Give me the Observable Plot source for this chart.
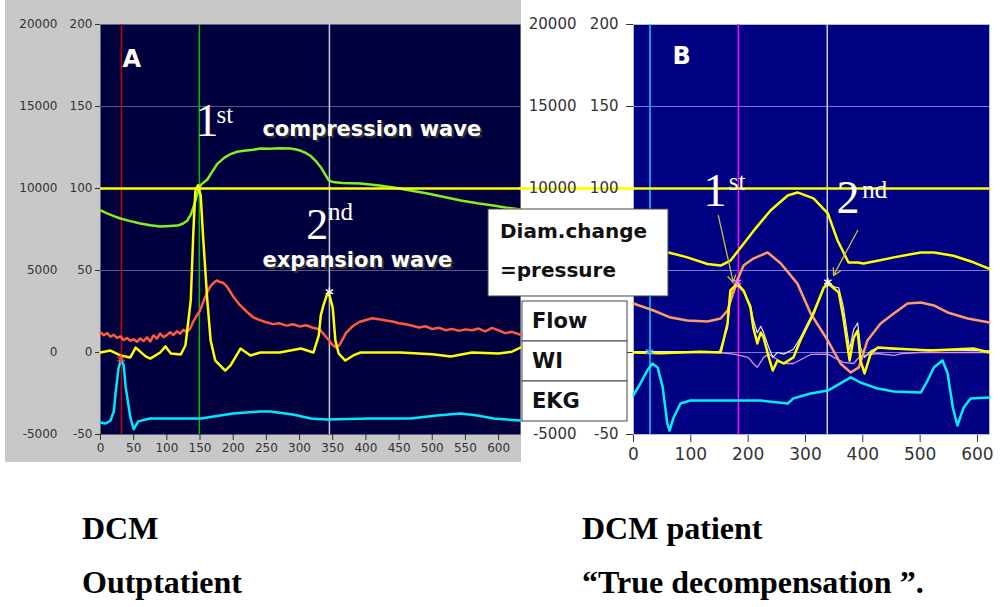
<!DOCTYPE html>
<html><head><meta charset="utf-8">
<script src="https://cdn.jsdelivr.net/npm/d3@7"></script>
<script src="https://cdn.jsdelivr.net/npm/@observablehq/plot@0.6"></script>
<style>
body{margin:0;background:#fff;}
#wrap{position:relative;width:1000px;height:607px;overflow:hidden;background:#fff;}
#a{position:absolute;left:5px;top:0;}
#b{position:absolute;left:521px;top:0;}
#ov{position:absolute;left:0;top:0;pointer-events:none;}
</style></head><body>
<div id="wrap"><div id="a"></div><div id="b"></div><svg id="ov" width="1000" height="607"></svg></div>
<script>
// ---------- shared ticks ----------
const yTicks = [-50, 0, 50, 100, 150, 200];
const yTicksLeft = [-5000, 0, 5000, 10000, 15000, 20000];
// panel B: labels at 0 and 50 are hidden behind the legend boxes in the reference
const bLabelTicks = [-50, 100, 150, 200];
const bLabelTicksLeft = [-5000, 10000, 15000, 20000];
const xTicksA = [0,50,100,150,200,250,300,350,400,450,500,550,600];
const xTicksB = [0,100,200,300,400,500,600];
const gridLevels = [150, 50];
const refLevel = [100];

// ---------- Panel A (outpatient) ----------
const aPressX = [0,10,20,30,45,60,75,90,105,116,124,131,136,140,144,148,152,161,168,176,186,196,206,216,230,241,255,270,286,295,302,310,317,325,332,338,344,350,357,365,392,420,442,467,493,518,543,568,592,612,633];
const aPressV = [86.6,84.8,83.2,81.7,80.1,78.7,77.6,76.8,77.2,77.4,78.5,80.5,84,88.4,94,100,102.5,105.5,110,115,118.5,121,122.4,123,123.6,124.4,124.2,124.5,124.4,123.8,123,121.5,119.8,116.5,113,109,105,104,103.7,103.3,103,101.8,100.6,98.8,97,94.8,92.7,91,89.6,88.3,87.2];

const aFlowX = [0,5,10,15,20,25,30,35,40,45,50,55,60,65,70,75,80,85,90,95,100,105,110,115,120,125,130,135,140,145,150,155,160,165,170,175,180,185,190,195,200,210,220,230,240,250,260,270,280,290,300,310,320,330,340,345,350,355,360,365,370,380,390,400,410,420,430,440,450,460,470,480,490,500,510,520,530,540,550,560,570,580,590,600,610,620,633];
const aFlowV = [12.2,10.5,11.8,9.6,10.8,8.9,9.8,7.6,8.8,7.2,8.1,6.5,8.6,7.0,9.2,6.8,10.4,8.5,11.6,9.4,10.6,12.3,10.7,12.9,11.5,13.8,12.6,14.5,19,22.5,25.6,31,36,40,42.3,43.9,43,42.5,40.5,37.5,34,29,25,21.5,19.8,18.4,17.3,17.8,16.4,17.2,15.9,16.6,15.1,14.2,9.5,7,4.5,3,4.5,8,12,16,18.6,19.8,20.9,20.3,19.5,18.9,17.8,17.2,16.3,15.2,16,14.3,15.1,13.6,14.4,13.2,14.1,13.6,14.6,12.9,15,13.5,11.8,12.6,10.8];

const aWiX = [0,15,30,45,53,68,75,90,98,106,121,128,136,140,143,147,151,155,161,166,173,188,196,211,226,241,270,302,321,329,332,336,341,344,350,354,359,369,381,392,452,500,528,560,600,620,633];
const aWiV = [0,1.2,-1.8,-3,3,-2.4,-3.7,0,3.7,-0.6,-1.2,4.3,31.7,74,98.8,102,95.7,68.3,31.7,7.3,-4.9,-11,-7.9,2.4,-1.8,0,0,2.4,0,10.4,22.6,28.7,34.8,36.6,27.4,7.3,-0.6,-4.9,-1.8,0,0,-1,-2.4,0,-0.6,0.5,3];

const aEkgX = [0,8,15,20,23,27,31,35,38,45,50,57,68,75,151,200,241,256,290,317,341,407,467,507,543,568,593,633];
const aEkgV = [-42.7,-43.3,-41.5,-36,-23.8,-10,-3.7,-8,-21.3,-39.6,-46.8,-42,-40.9,-40.3,-40.3,-37.2,-36,-36,-37.8,-40.3,-40.9,-40.3,-40.3,-38.4,-37.2,-38.4,-40.3,-41.5];

const aCursorX = [31.6, 149, 345];
const aCursorColor = ["#c80000", "#00c000", "#c8c8dc"];

// ---------- Panel B (true decompensation) ----------
const bPressX = [0,30,61,94,129,152,169,187,209,239,269,286,314,339,356,375,391,401,426,454,501,524,558,593,621];
const bPressV = [63,62,61,58,54,53,56,64,74,86.6,95.7,97.6,94,84.8,68.3,54.9,54.9,54.3,56,58,61,61,59,55,51];

const bFlowX = [0,35,65,94,129,152,164,181,192,209,234,257,286,309,339,361,379,393,408,431,454,478,501,524,548,583,621];
const bFlowV = [29.9,25.6,21.3,19.5,18.9,20.7,25.6,43.9,53,57.3,61,54.3,42,23.8,7.3,-6.7,-12.2,-9.1,7.3,17.7,23.8,29.9,30.5,28.7,24.4,20.7,18.3];

const bWiX = [0,47,117,152,164,169,181,192,204,209,216,222,227,236,243,251,262,279,291,314,332,340,358,366,377,384,391,396,403,414,426,454,518,593,621];
const bWiV = [0,-0.5,0.5,0,17.7,37.8,42,37.8,27.4,15.2,5.5,12.2,9.1,-3,-11,-4.9,-6.7,-3,7.3,23.8,39.6,42,36.6,21.3,-4.9,9,13.4,-4.9,-12.8,-0.6,3,2.4,1.2,2.4,0];

const bWhiteX = [0,150,164,169,181,192,204,209,216,222,227,236,243,251,262,279,291,314,332,340,350,358,366,377,384,391,396,403,414,426,454,621];
const bWhiteV = [0.5,0.5,15,35,41,37,29,20,12,16,12,3,-3,0,-1,2,9,25,40,43,40,39.5,28,2,14,18,3,-3,1,3,2,1];

const bVioletX = [0,150,175,200,209,216,227,236,262,279,309,339,366,384,396,426,454,470,500,621];
const bVioletV = [0,0,-1,-3,-6.7,-9,-3,-1,-6.7,-6.7,-1.2,-1,-6,-6.7,-2,-0.6,-1.8,-0.6,0,0];

const bEkgX = [0,12,24,33,42,51,59,63,70,82,99,222,269,279,309,339,379,396,426,454,501,513,524,539,548,557,565,576,588,621];
const bEkgV = [-26,-18.9,-11,-6.7,-9.1,-21.3,-43.3,-47.6,-39.6,-31.1,-29.3,-29.3,-31.1,-28,-25,-23.2,-15.2,-18.3,-22,-23.8,-24.4,-17.1,-9.1,-4.9,-12.8,-33.5,-44.5,-33.5,-28,-27.4];

const bCursorX = [28.8, 183, 338];
const bCursorColor = ["#10c8ff", "#ff10ff", "#d0d0ec"];

// annotation anchors (data units)
const aNotes = [
  {x: 33, y: 173.8, text: "A", font: "DejaVu Sans", size: 24, weight: "bold"},
  {x: 143, y: 132.3, text: "1", font: "Liberation Serif", size: 46, weight: "normal"},
  {x: 175, y: 140.2, text: "st", font: "Liberation Serif", size: 25, weight: "normal"},
  {x: 310, y: 69, text: "2", font: "Liberation Serif", size: 44, weight: "normal"},
  {x: 343, y: 80.5, text: "nd", font: "Liberation Serif", size: 25, weight: "normal"}
];
const aWaveNotes = [
  {x: 244, y: 132.3, text: "compression wave"},
  {x: 244, y: 52, text: "expansion wave"}
];
const bNotes = [
  {x: 68, y: 176, text: "B", font: "DejaVu Sans", size: 24, weight: "bold"},
  {x: 122, y: 89.6, text: "1", font: "Liberation Serif", size: 46, weight: "normal"},
  {x: 166, y: 98.8, text: "st", font: "Liberation Serif", size: 25, weight: "normal"},
  {x: 354, y: 84.8, text: "2", font: "Liberation Serif", size: 46, weight: "normal"},
  {x: 399, y: 94.5, text: "nd", font: "Liberation Serif", size: 25, weight: "normal"}
];
const bArrows = [
  {x1: 148, y1: 83.5, x2: 174, y2: 42.7},
  {x1: 391, y1: 74.4, x2: 349, y2: 47}
];
const aStars = [{x: 345, y: 37, c: "#ffffff"}, {x: 31, y: -4, c: "#ff3030"}];
const bStars = [{x: 181, y: 43, c: "#ff70ff"}, {x: 339, y: 43, c: "#ffffff"}, {x: 28, y: 0.5, c: "#40a0ff"}];

const legendTop = ["Diam.change", "=pressure"];
const legendRows = ["Flow", "WI", "EKG"];
const captionsA = ["DCM", "Outptatient"];
const captionsB = ["DCM patient", "\u201CTrue decompensation \u201D."];

const zip = (xs, ys) => xs.map((x, i) => ({x, y: ys[i]}));
const fmt = d => String(d);

function noteMarks(notes) {
  return notes.map(n => Plot.text([n], {x: "x", y: "y", text: "text", fill: "white", fontFamily: n.font, fontSize: n.size, fontWeight: n.weight, textAnchor: "start", lineAnchor: "bottom"}));
}

// ---------- Plot A ----------
const chartA = Plot.plot({
  width: 516, height: 462,
  marginLeft: 95, marginRight: 1, marginTop: 24, marginBottom: 28,
  style: {background: "#c8c8c8", overflow: "visible", fontFamily: "DejaVu Sans, sans-serif", fontSize: "12px", color: "#333"},
  x: {domain: [0, 633], ticks: xTicksA, tickSize: 6, tickPadding: 3, tickFormat: fmt, label: null},
  y: {domain: [-50, 200], ticks: yTicks, tickSize: 5, tickPadding: 3, tickFormat: fmt, label: null},
  marks: [
    Plot.frame({fill: "#00003e"}),
    Plot.ruleY(gridLevels, {stroke: "#5a5a86", strokeWidth: 1}),
    ...aCursorX.map((x, i) => Plot.ruleX([x], {stroke: aCursorColor[i], strokeWidth: 1.5})),
    Plot.line(zip(aEkgX, aEkgV), {x: "x", y: "y", stroke: "#00e8ff", strokeWidth: 2.5}),
    Plot.line(zip(aFlowX, aFlowV), {x: "x", y: "y", stroke: "#ff5a3c", strokeWidth: 2.5}),
    Plot.line(zip(aPressX, aPressV), {x: "x", y: "y", stroke: "#80f020", strokeWidth: 2.5}),
    Plot.line(zip(aWiX, aWiV), {x: "x", y: "y", stroke: "#ffff00", strokeWidth: 2.5}),
    Plot.dot(aStars, {x: "x", y: "y", stroke: "c", symbol: "asterisk", r: 4}),
    Plot.ruleY(refLevel, {x1: 0, x2: 800, stroke: "#ffff00", strokeWidth: 2.5}),
    Plot.text(yTicks, {y: d => d, text: (d, i) => String(yTicksLeft[i]), frameAnchor: "left", textAnchor: "end", dx: -43, fill: "#333", fontSize: 12}),
    ...noteMarks(aNotes),
    Plot.text(aWaveNotes, {x: "x", y: "y", text: "text", dx: 2, dy: 2, fill: "#303030", fontFamily: "DejaVu Sans", fontWeight: "bold", fontSize: 21, textAnchor: "start", lineAnchor: "bottom"}),
    Plot.text(aWaveNotes, {x: "x", y: "y", text: "text", fill: "white", fontFamily: "DejaVu Sans", fontWeight: "bold", fontSize: 21, textAnchor: "start", lineAnchor: "bottom"})
  ]
});
document.getElementById("a").appendChild(chartA);

// ---------- Plot B ----------
const chartB = Plot.plot({
  width: 479, height: 462,
  marginLeft: 112, marginRight: 11, marginTop: 24, marginBottom: 28,
  style: {background: "none", overflow: "visible", fontFamily: "DejaVu Sans, sans-serif", fontSize: "17px", color: "#333"},
  x: {domain: [0, 621], ticks: xTicksB, tickSize: 8, tickPadding: 5, tickFormat: fmt, label: null},
  y: {domain: [-50, 200], ticks: yTicks, tickSize: 7, tickPadding: 8, tickFormat: () => "", label: null},
  marks: [
    Plot.frame({fill: "#000082", stroke: "#b8b8c8"}),
    Plot.ruleY(gridLevels.concat([0]), {stroke: "#7a7ad8", strokeWidth: 1}),
    ...bCursorX.map((x, i) => Plot.ruleX([x], {stroke: bCursorColor[i], strokeWidth: 1.5})),
    Plot.line(zip(bEkgX, bEkgV), {x: "x", y: "y", stroke: "#00f0ff", strokeWidth: 2.5}),
    Plot.line(zip(bVioletX, bVioletV), {x: "x", y: "y", stroke: "#d890f0", strokeWidth: 1.3}),
    Plot.line(zip(bWhiteX, bWhiteV), {x: "x", y: "y", stroke: "#e8e8f0", strokeWidth: 1.2}),
    Plot.line(zip(bFlowX, bFlowV), {x: "x", y: "y", stroke: "#ff9a6a", strokeWidth: 2.5}),
    Plot.line(zip(bPressX, bPressV), {x: "x", y: "y", stroke: "#ffff00", strokeWidth: 2.5}),
    Plot.line(zip(bWiX, bWiV), {x: "x", y: "y", stroke: "#ffff00", strokeWidth: 2.5}),
    Plot.dot(bStars, {x: "x", y: "y", stroke: "c", symbol: "asterisk", r: 4}),
    Plot.arrow(bArrows, {x1: "x1", y1: "y1", x2: "x2", y2: "y2", stroke: "#c8c040", strokeWidth: 1.3, headLength: 9}),
    Plot.ruleY(refLevel, {x1: -200, x2: 621, stroke: "#ffff00", strokeWidth: 2.5}),
    Plot.text(bLabelTicks, {y: d => d, text: d => String(d), frameAnchor: "left", textAnchor: "end", dx: -15, fill: "#333", fontSize: 15}),
    Plot.text(bLabelTicks, {y: d => d, text: (d, i) => String(bLabelTicksLeft[i]), frameAnchor: "left", textAnchor: "end", dx: -57, fill: "#333", fontSize: 15}),
    ...noteMarks(bNotes)
  ]
});
document.getElementById("b").appendChild(chartB);

// ---------- legend boxes & captions ----------
const ov = d3.select("#ov");
ov.append("rect").attr("x", 488).attr("y", 209).attr("width", 180).attr("height", 87)
  .attr("fill", "#fff").attr("stroke", "#444").attr("stroke-width", 1);
legendTop.forEach((t, i) => ov.append("text").attr("x", 500).attr("y", 238 + i * 39)
  .attr("font-family", "DejaVu Sans").attr("font-weight", "bold").attr("font-size", 20).attr("fill", "#111").text(t));
legendRows.forEach((t, i) => {
  ov.append("rect").attr("x", 522).attr("y", 301 + i * 40).attr("width", 105).attr("height", 40)
    .attr("fill", "#fff").attr("stroke", "#444").attr("stroke-width", 1);
  ov.append("text").attr("x", 532).attr("y", 328 + i * 40)
    .attr("font-family", "DejaVu Sans").attr("font-weight", "bold").attr("font-size", 21).attr("fill", "#111").text(t);
});
[captionsA, captionsB].forEach((caps, j) => caps.forEach((t, i) =>
  ov.append("text").attr("x", 82 + j * 500).attr("y", 539 + i * 54)
    .attr("font-family", "Liberation Serif, Times New Roman, serif").attr("font-weight", "bold")
    .attr("font-size", 32).attr("fill", "#000").text(t)));
</script></body></html>
